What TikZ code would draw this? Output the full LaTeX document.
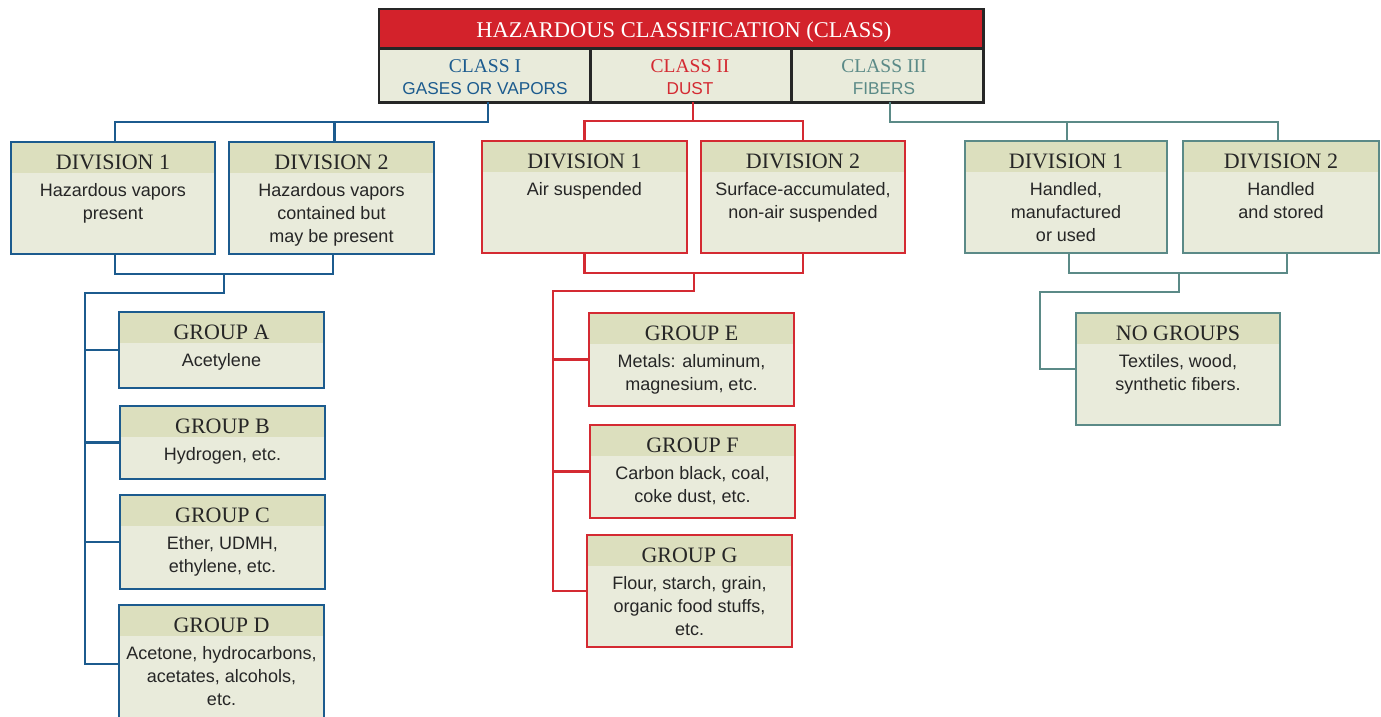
\documentclass[tikz,border=0pt]{standalone}
\usepackage{fontspec}
\setmainfont{Liberation Serif}
\setsansfont{Liberation Sans}
\usetikzlibrary{calc}
\definecolor{cblue}{HTML}{1C5B8E}
\definecolor{cred}{HTML}{D42A32}
\definecolor{cteal}{HTML}{5B8A87}
\definecolor{bodyfill}{HTML}{E9EBDB}
\definecolor{headfill}{HTML}{DCDFBE}
\definecolor{txt}{HTML}{262626}
\definecolor{titlered}{HTML}{D3222B}
\tikzset{
  conn/.style={line width=2.4pt},
  hdr/.style={inner sep=0pt, text=txt, font=\fontsize{22}{26}\selectfont},
  bdy/.style={inner sep=0pt, text=txt, align=center, font=\sffamily\fontsize{18}{23}\selectfont},
  clsa/.style={inner sep=0pt, font=\fontsize{19.5}{22}\selectfont},
  clsb/.style={inner sep=0pt, font=\sffamily\fontsize{17.2}{20}\selectfont},
}
\newcommand\mybox[8]{%
  \node[anchor=north west, inner sep=0pt, outer sep=0pt,
        minimum width={(#4-#2)*1pt}, minimum height={(#5-#3)*1pt}, fill=bodyfill] (#1) at (#2,#3) {};
  \fill[headfill] (#1.north west) rectangle ([yshift=-31pt]#1.north east);
  \draw[line width=2.4pt, #6] (#1.north west) rectangle (#1.south east);
  \node[hdr, anchor=base] (#1h) at ([yshift=-27pt]#1.north) {#7};
  \node[bdy, anchor=north] (#1b) at ([yshift=-41pt]#1.north) {#8};
}
\begin{document}
\begin{tikzpicture}[x=1pt,y=-1pt]
\clip (0,0) rectangle (1381,717);
\fill[white] (0,0) rectangle (1381,717);

% ---- top box
\node[anchor=north west, inner sep=0pt, minimum width=604pt, minimum height=39pt, fill=titlered] (title) at (379,9) {};
\node[anchor=north west, inner sep=0pt, minimum width=211pt, minimum height=54pt, fill=bodyfill] (c1) at (379,48) {};
\node[anchor=north west, inner sep=0pt, minimum width=201pt, minimum height=54pt, fill=bodyfill] (c2) at (590,48) {};
\node[anchor=north west, inner sep=0pt, minimum width=192pt, minimum height=54pt, fill=bodyfill] (c3) at (791,48) {};
\draw[line width=2.4pt, black!85] (title.north west) rectangle (c3.south east);
\draw[line width=2.4pt, black!85] (title.south west) -- (title.south east);
\draw[line width=2.4pt, black!85] (c1.north east) -- (c1.south east);
\draw[line width=2.4pt, black!85] (c2.north east) -- (c2.south east);
\node[anchor=base, inner sep=0pt, text=white, font=\fontsize{22.5}{24}\selectfont] (titlet) at (684,38) {HAZARDOUS CLASSIFICATION (CLASS)};
\node[clsa, anchor=base, text=cblue] (c1a) at (485,73) {CLASS I};
\node[clsb, anchor=base, text=cblue] (c1b) at (485,95) {GASES OR VAPORS};
\node[clsa, anchor=base, text=cred] (c2a) at (690,73) {CLASS II};
\node[clsb, anchor=base, text=cred] (c2b) at (690,95) {DUST};
\node[clsa, anchor=base, text=cteal] (c3a) at (884,73) {CLASS III};
\node[clsb, anchor=base, text=cteal] (c3b) at (884,95) {FIBERS};

% ---- divisions
\mybox{d11}{11}{142}{215}{254}{cblue}{DIVISION 1}{Hazardous vapors\\present}
\mybox{d12}{229}{142}{434}{254}{cblue}{DIVISION 2}{Hazardous vapors\\contained but\\may be present}
\mybox{d21}{482}{141}{687}{253}{cred}{DIVISION 1}{Air suspended}
\mybox{d22}{701}{141}{905}{253}{cred}{DIVISION 2}{Surface-accumulated,\\non-air suspended}
\mybox{d31}{965}{141}{1167}{253}{cteal}{DIVISION 1}{Handled,\\manufactured\\or used}
\mybox{d32}{1183}{141}{1379}{253}{cteal}{DIVISION 2}{Handled\\and stored}

% ---- groups
\mybox{gA}{119}{312}{324}{388}{cblue}{GROUP A}{Acetylene}
\mybox{gB}{120}{406}{325}{479}{cblue}{GROUP B}{Hydrogen, etc.}
\mybox{gC}{120}{495}{325}{589}{cblue}{GROUP C}{Ether, UDMH,\\ethylene, etc.}
\mybox{gD}{119}{605}{324}{723}{cblue}{GROUP D}{Acetone, hydrocarbons,\\acetates, alcohols,\\etc.}
\mybox{gE}{589}{313}{794}{406}{cred}{GROUP E}{Metals: aluminum,\\magnesium, etc.}
\mybox{gF}{590}{425}{795}{518}{cred}{GROUP F}{Carbon black, coal,\\coke dust, etc.}
\mybox{gG}{587}{535}{792}{647}{cred}{GROUP G}{Flour, starch, grain,\\organic food stuffs,\\etc.}
\mybox{ng}{1076}{313}{1280}{425}{cteal}{NO GROUPS}{Textiles, wood,\\synthetic fibers.}

% ---- connectors class I
\coordinate (u1) at (488,122);
\draw[conn, cblue] (u1 |- c1.south) -- (u1) -| ([xshift=2pt]d11.north);
\draw[conn, cblue] (u1) -| ([xshift=3pt]d12.north);
\draw[conn, cblue] ([xshift=2pt]d11.south) -- ++(0,20) -| ([xshift=1.5pt]d12.south);
\coordinate (j1) at (224,274);
\coordinate (t1) at (85,293);
\draw[conn, cblue] (j1) |- (t1) |- (gD.west);
\draw[conn, cblue] (t1 |- gA.west) -- (gA.west);
\draw[conn, cblue] (t1 |- gB.west) -- (gB.west);
\draw[conn, cblue] (t1 |- gC.west) -- (gC.west);

% ---- connectors class II
\coordinate (u2) at (693,121);
\draw[conn, cred] (u2 |- c2.south) -- (u2) -| (d21.north);
\draw[conn, cred] (u2) -| (d22.north);
\draw[conn, cred] (d21.south) -- ++(0,20) -| (d22.south);
\coordinate (j2) at ($(d21.south)!0.5!(d22.south)+(0,20)$);
\coordinate (t2) at (553,291);
\draw[conn, cred] (j2) |- (t2) |- (gG.west);
\draw[conn, cred] (t2 |- gE.west) -- (gE.west);
\draw[conn, cred] (t2 |- gF.west) -- (gF.west);

% ---- connectors class III
\coordinate (u3) at (890,122);
\draw[conn, cteal] (u3 |- c3.south) -- (u3) -| ([xshift=1pt]d31.north);
\draw[conn, cteal] (u3) -| ([xshift=-3pt]d32.north);
\draw[conn, cteal] ([xshift=3pt]d31.south) -- ++(0,20) -| ([xshift=6pt]d32.south);
\coordinate (j3) at (1179,273);
\coordinate (t3) at (1040,292);
\draw[conn, cteal] (j3) |- (t3) |- (ng.west);
\end{tikzpicture}
\end{document}
